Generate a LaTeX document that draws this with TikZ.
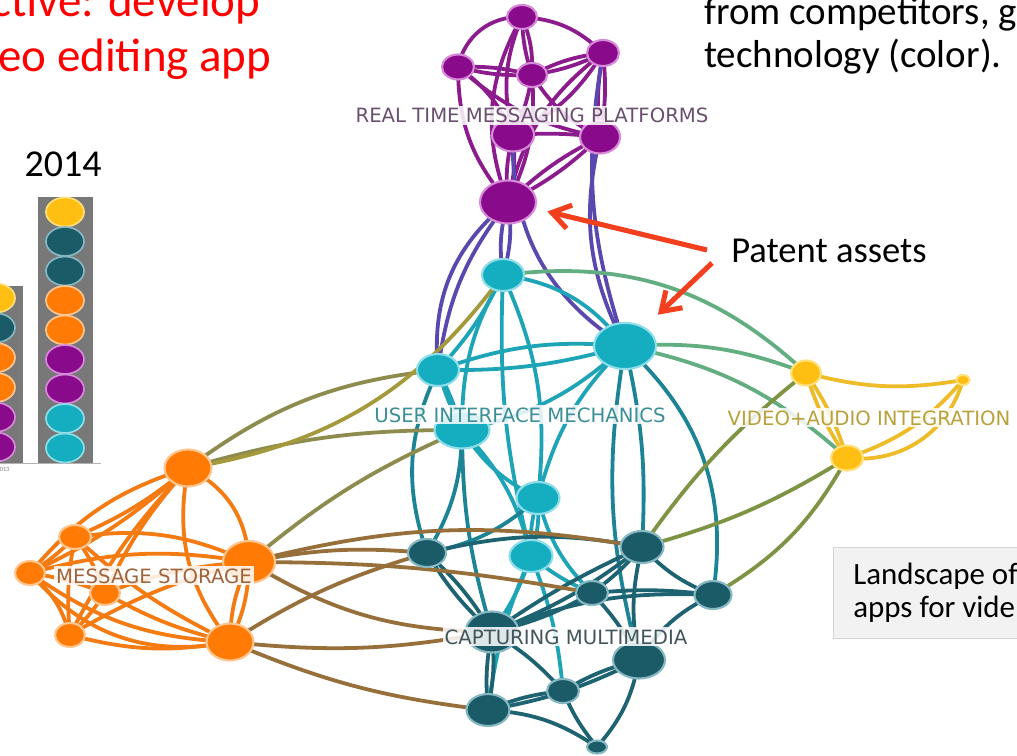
\documentclass[tikz,border=0pt]{standalone}
\usepackage{fontspec}
\setmainfont{Carlito}
\newfontfamily\clusterfont{DejaVu Sans}
\usetikzlibrary{shapes.geometric,arrows.meta,backgrounds}

\definecolor{pfill}{HTML}{8A0A8C}
\definecolor{pline}{HTML}{D68AD8}
\definecolor{cfill}{HTML}{14AEC0}
\definecolor{cline}{HTML}{8FDDE8}
\definecolor{dfill}{HTML}{1B5A67}
\definecolor{dline}{HTML}{86B8C2}
\definecolor{ofill}{HTML}{FF7B06}
\definecolor{oline}{HTML}{FFC690}
\definecolor{yfill}{HTML}{FFBE12}
\definecolor{yline}{HTML}{FFE07A}
\definecolor{pedge}{HTML}{8C1C8E}
\definecolor{pcedge}{HTML}{5A48AE}
\definecolor{cedge}{HTML}{1DA4B6}
\definecolor{cdedge}{HTML}{1C8494}
\definecolor{dedge}{HTML}{1E6371}
\definecolor{oedge}{HTML}{F47A12}
\definecolor{otedge}{HTML}{976F3A}
\definecolor{ocedge}{HTML}{8D8B4E}
\definecolor{olivedge}{HTML}{A49A3C}
\definecolor{yedge}{HTML}{EDBC28}
\definecolor{cyedge}{HTML}{62AE80}
\definecolor{dyedge}{HTML}{7E9444}
\definecolor{arrowred}{HTML}{F2401F}
\definecolor{bargray}{HTML}{787878}
\definecolor{boxfill}{HTML}{F2F2F2}
\definecolor{boxline}{HTML}{D3D3D3}
\definecolor{rtcol}{HTML}{6B4F6E}
\definecolor{uicol}{HTML}{3B8F96}
\definecolor{vacol}{HTML}{B8A13A}
\definecolor{mscol}{HTML}{A0643C}
\definecolor{cmcol}{HTML}{42555A}

\newdimen\pxu \pxu=0.025cm

\tikzset{
    blob/.style = {ellipse, inner sep=0pt, line width=1.5pt},
    pnode/.style = {blob, fill=pfill, draw=pline},
    cnode/.style = {blob, fill=cfill, draw=cline},
    dnode/.style = {blob, fill=dfill, draw=dline},
    onode/.style = {blob, fill=ofill, draw=oline},
    ynode/.style = {blob, fill=yfill, draw=yline},
    link/.style = {line width=2.7pt, line cap=round},
    clusterlabel/.style = {font=\clusterfont\fontsize{14}{14}\selectfont, fill=white, fill opacity=0.85, text opacity=1, inner sep=1.5pt, anchor=base},
    slidetext/.style = {anchor=base west, inner sep=0pt},
    patentarrow/.style = {draw=arrowred, line width=3.6pt, -{Straight Barb[length=4.5mm,width=6mm]}},
    barchip/.style = {ellipse, inner sep=0pt, minimum width=38\pxu, minimum height=29\pxu, line width=1.2pt},
    infobox/.style = {draw=boxline, fill=boxfill, anchor=north west, align=left, inner xsep=20\pxu, minimum height=91\pxu, font=\fontsize{22}{24}\selectfont},
}

\begin{document}
\begin{tikzpicture}[x=0.025cm, y=-0.025cm]
\useasboundingbox (0,0) rectangle (1017,755);

% patent clusters
\foreach \n/\x/\y/\w/\h in {P1/522/17/30/24, P2/458/67/32/25, P3/532/75/30/24, P4/603/53/32/26,
    P5/513/135/42/33, P6/600/137/40/33, P7/508/202/56/43}
    \node[pnode, minimum width=\w\pxu, minimum height=\h\pxu] (\n) at (\x,\y) {};
\foreach \n/\x/\y/\w/\h in {C1/503/275/42/32, C2/625/346/62/46, C3/438/370/42/32, C4/462/430/55/37,
    C5/538/498/43/32, C6/531/556/43/32}
    \node[cnode, minimum width=\w\pxu, minimum height=\h\pxu] (\n) at (\x,\y) {};
\foreach \n/\x/\y/\w/\h in {D1/427/553/38/28, D2/642/547/43/32, D3/592/593/32/24, D4/713/595/37/28,
    D5/492/632/53/41, D6/639/660/52/37, D7/563/691/32/24, D8/488/710/43/32, D9/597/747/20/13}
    \node[dnode, minimum width=\w\pxu, minimum height=\h\pxu] (\n) at (\x,\y) {};
\foreach \n/\x/\y/\w/\h in {O1/188/468/47/37, O2/75/537/32/24, O3/30/573/30/24, O4/105/593/30/24,
    O5/70/635/30/24, O6/249/562/52/42, O7/230/642/47/37}
    \node[onode, minimum width=\w\pxu, minimum height=\h\pxu] (\n) at (\x,\y) {};
\foreach \n/\x/\y/\w/\h in {Y1/806/373/30/25, Y2/963/380/13/10, Y3/847/458/32/25}
    \node[ynode, minimum width=\w\pxu, minimum height=\h\pxu] (\n) at (\x,\y) {};

\begin{pgfonlayer}{background}
\fill[white] (0,0) rectangle (1017,755);
% links
\foreach \a/\b/\bb in {P2/P1/40, P1/P3/12, P1/P3/-8, P1/P4/20, P1/P7/-25, P1/P5/-18, P2/P3/8, P2/P3/-8,
    P2/P5/15, P2/P7/-20, P2/P6/-15, P3/P4/10, P3/P4/-8, P3/P5/8, P3/P6/-15, P3/P7/15, P4/P6/8, P4/P6/-8,
    P4/P5/15, P5/P7/10, P5/P7/-10, P6/P7/8, P6/P7/-8, P5/P6/5, P4/P7/-20}
    \draw[link, pedge] (\a.center) to[bend left=\bb] (\b.center);
\foreach \a/\b/\bb in {P7/C1/12, P7/C1/-12, P7/C3/-15, P7/C3/-28, P5/C2/-30, P6/C2/-20, P4/C2/-14}
    \draw[link, pcedge] (\a.center) to[bend left=\bb] (\b.center);
\foreach \a/\b/\bb in {C1/C3/8, C1/C4/-15, C1/C2/22, C2/C3/8, C2/C3/-12, C2/C4/15, C3/C4/5, C3/C4/-5,
    C1/C5/15, C1/C6/-8, C4/C5/-15, C4/C6/15, C5/C6/10, C5/C6/-10, C2/C5/-15, C6/D7/8, C6/D8/-8,
    C6/D3/-8, C6/D5/8, C5/D3/-15}
    \draw[link, cedge] (\a.center) to[bend left=\bb] (\b.center);
\foreach \a/\b/\bb in {C3/D1/-22, C2/D2/8, C2/D6/-12, C2/D4/28, C5/D1/15, C4/D5/-8, C4/D1/15}
    \draw[link, cdedge] (\a.center) to[bend left=\bb] (\b.center);
\foreach \a/\b/\bb in {D1/D5/8, D1/D5/-8, D1/D2/12, D2/D3/6, D2/D4/-12, D2/D5/8, D2/D5/-5, D2/D6/-12,
    D3/D4/6, D3/D5/8, D3/D6/8, D4/D5/-12, D4/D6/-15, D5/D8/8, D5/D8/-8, D5/D7/8, D6/D7/-8, D6/D8/8,
    D7/D8/-8, D7/D9/-8, D6/D9/15, D8/D9/15}
    \draw[link, dedge] (\a.center) to[bend left=\bb] (\b.center);
\foreach \a/\b/\bb in {O1/O2/8, O1/O3/-16, O1/O3/8, O1/O4/-8, O1/O5/-8, O1/O6/30, O1/O7/-24, O2/O3/6,
    O2/O4/8, O2/O5/-8, O2/O6/16, O2/O7/-8, O3/O4/6, O3/O5/16, O3/O6/12, O3/O7/-16, O3/O7/-30,
    O4/O6/8, O4/O7/-8, O4/O5/6, O5/O7/-12, O5/O6/8, O6/O7/12, O6/O7/-12}
    \draw[link, oedge] (\a.center) to[bend left=\bb] (\b.center);
\foreach \a/\b/\bb in {O6/D2/12, O6/D3/5, O6/D5/-15, O6/D1/8, O7/D5/-8, O7/D8/-8, O7/D1/8}
    \draw[link, otedge] (\a.center) to[bend left=\bb] (\b.center);
\foreach \a/\b/\bb in {O1/C3/15, O1/C4/8, O6/C4/8}
    \draw[link, ocedge] (\a.center) to[bend left=\bb] (\b.center);
\draw[link, olivedge] (O1.center) to[bend left=-22] (C1.center);
\foreach \a/\b/\bb in {Y1/Y2/-12, Y1/Y3/8, Y1/Y3/-8, Y2/Y3/15, Y2/Y3/40}
    \draw[link, yedge] (\a.center) to[bend left=\bb] (\b.center);
\foreach \a/\b/\bb in {C2/Y1/12, C1/Y1/25, C2/Y3/15}
    \draw[link, cyedge] (\a.center) to[bend left=\bb] (\b.center);
\foreach \a/\b/\bb in {Y3/D2/8, Y3/D4/15, Y1/D2/-8}
    \draw[link, dyedge] (\a.center) to[bend left=\bb] (\b.center);
\end{pgfonlayer}

% cluster names
\node[clusterlabel, text=rtcol] (rtmp) at (532,123) {REAL TIME MESSAGING PLATFORMS};
\node[clusterlabel, text=uicol] (uim) at (520,422) {USER INTERFACE MECHANICS};
\node[clusterlabel, text=vacol] (vai) at (869,425) {VIDEO+AUDIO INTEGRATION};
\node[clusterlabel, text=mscol] (mst) at (154,583) {MESSAGE STORAGE};
\node[clusterlabel, text=cmcol] (cmm) at (566,644) {CAPTURING MULTIMEDIA};

% bar chart
\fill[bargray] (-10,286) rectangle (23,463);
\fill[bargray] (38,197) rectangle (93,463);
\draw[gray!60, line width=0.6pt] (0,463) -- (101,463);
\tikzset{
    ychip/.style = {fill=yfill, draw=yline},
    dchip/.style = {fill=dfill, draw=dline},
    ochip/.style = {fill=ofill, draw=oline},
    pchip/.style = {fill=pfill, draw=pline},
    cchip/.style = {fill=cfill, draw=cline},
}
\foreach \c [count=\i from 0] in {ychip, dchip, ochip, ochip, pchip, pchip}
    \node[barchip, \c] (lchip\i) at (-4, 298+29.8*\i) {};
\foreach \c [count=\i from 0] in {ychip, dchip, dchip, ochip, ochip, pchip, pchip, cchip, cchip}
    \node[barchip, \c] (rchip\i) at (65, 212+29.5*\i) {};
\node[anchor=base, inner sep=0pt, text=gray, font=\fontsize{4.5}{5}\selectfont] (yearA) at (3,471) {2013};
\node[anchor=base, inner sep=0pt, font=\fontsize{27}{30}\selectfont] (yearB) at (63,177) {2014};

% slide text
\node[slidetext, text=red, font=\fontsize{33.4}{40}\selectfont] (goalA) at (-9,17) {ctive: develop};
\node[slidetext, text=red, font=\fontsize{33.4}{40}\selectfont] (goalB) at (-2,72) {eo editing app};
\node[slidetext, font=\fontsize{27.7}{30}\selectfont] (noteA) at (704,25) {from competitors, g};
\node[slidetext, font=\fontsize{27.7}{30}\selectfont] (noteB) at (704,68) {technology (color).};
\node[slidetext, font=\fontsize{26}{29}\selectfont] (patent) at (731,262) {Patent assets};
\node[infobox] (landscape) at (833,547) {Landscape of\\apps for vide};

% arrows to the patent assets
\coordinate (arrA) at (707,250);
\coordinate (arrB) at (712,263);
\draw[patentarrow, shorten >=0.3cm] (arrA) -- (P7);
\draw[patentarrow, shorten >=0.45cm] (arrB) -- (C2);
\end{tikzpicture}
\end{document}
